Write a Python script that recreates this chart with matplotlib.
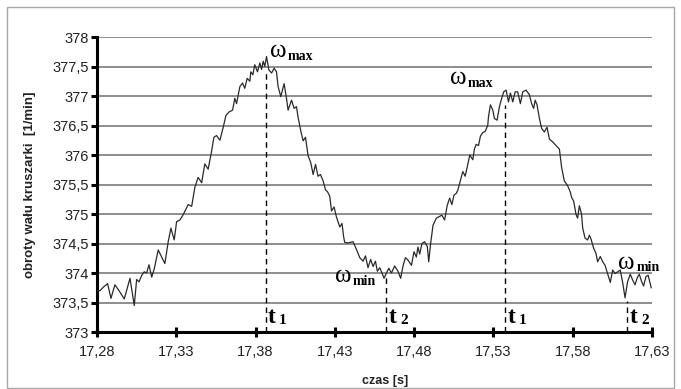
import matplotlib
matplotlib.use("Agg")
import matplotlib.pyplot as plt
from matplotlib.ticker import FixedLocator, FuncFormatter
from matplotlib.patches import Rectangle

# ---- data ----
time_s = [
    17.2800, 17.2819, 17.2840, 17.2867, 17.2888, 17.2913, 17.2939, 17.2972, 17.3008, 17.3035,
    17.3050, 17.3065, 17.3082, 17.3098, 17.3113, 17.3128, 17.3145, 17.3161, 17.3186, 17.3208,
    17.3228, 17.3249, 17.3266, 17.3287, 17.3302, 17.3323, 17.3344, 17.3375, 17.3397, 17.3417,
    17.3438, 17.3460, 17.3480, 17.3501, 17.3523, 17.3537, 17.3554, 17.3575, 17.3596, 17.3613,
    17.3633, 17.3655, 17.3669, 17.3680, 17.3701, 17.3718, 17.3732, 17.3747, 17.3764, 17.3770,
    17.3783, 17.3795, 17.3812, 17.3827, 17.3838, 17.3848, 17.3858, 17.3869, 17.3884, 17.3901,
    17.3917, 17.3932, 17.3942, 17.3959, 17.3980, 17.3995, 17.4005, 17.4027, 17.4043, 17.4058,
    17.4068, 17.4085, 17.4100, 17.4115, 17.4131, 17.4148, 17.4163, 17.4178, 17.4194, 17.4209,
    17.4226, 17.4241, 17.4253, 17.4268, 17.4279, 17.4295, 17.4310, 17.4331, 17.4345, 17.4355,
    17.4362, 17.4383, 17.4415, 17.4436, 17.4457, 17.4478, 17.4493, 17.4509, 17.4526, 17.4541,
    17.4556, 17.4568, 17.4583, 17.4597, 17.4610, 17.4625, 17.4640, 17.4657, 17.4677, 17.4698,
    17.4715, 17.4730, 17.4745, 17.4761, 17.4783, 17.4799, 17.4814, 17.4824, 17.4835, 17.4849,
    17.4866, 17.4883, 17.4892, 17.4904, 17.4919, 17.4940, 17.4961, 17.4975, 17.4992, 17.5009,
    17.5024, 17.5038, 17.5051, 17.5066, 17.5076, 17.5090, 17.5107, 17.5122, 17.5138, 17.5151,
    17.5170, 17.5180, 17.5191, 17.5206, 17.5218, 17.5233, 17.5248, 17.5264, 17.5269, 17.5281,
    17.5296, 17.5306, 17.5323, 17.5338, 17.5352, 17.5365, 17.5380, 17.5395, 17.5407, 17.5422,
    17.5437, 17.5453, 17.5470, 17.5485, 17.5506, 17.5527, 17.5541, 17.5554, 17.5563, 17.5575,
    17.5590, 17.5604, 17.5621, 17.5638, 17.5653, 17.5674, 17.5695, 17.5716, 17.5730, 17.5747,
    17.5768, 17.5785, 17.5793, 17.5806, 17.5821, 17.5831, 17.5842, 17.5856, 17.5863, 17.5878,
    17.5894, 17.5905, 17.5915, 17.5932, 17.5947, 17.5957, 17.5974, 17.5989, 17.6004, 17.6020,
    17.6037, 17.6052, 17.6067, 17.6083, 17.6100, 17.6115, 17.6130, 17.6146, 17.6163, 17.6178,
    17.6193, 17.6207, 17.6220, 17.6234, 17.6247, 17.6262, 17.6276, 17.6295,
]
speed_rpm = [
    373.70, 373.70, 373.76, 373.82, 373.57, 373.80, 373.70, 373.56, 373.91, 373.45,
    373.89, 373.85, 373.96, 374.02, 374.00, 374.14, 373.93, 374.07, 374.39, 374.27,
    374.16, 374.53, 374.76, 374.56, 374.87, 374.90, 374.99, 375.16, 375.13, 375.45,
    375.62, 375.53, 375.85, 375.76, 376.07, 376.30, 376.33, 376.25, 376.47, 376.67,
    376.73, 376.76, 376.96, 376.87, 377.16, 377.22, 377.13, 377.30, 377.25, 377.41,
    377.36, 377.53, 377.41, 377.56, 377.45, 377.59, 377.50, 377.67, 377.44, 377.39,
    377.47, 377.41, 377.16, 376.99, 377.21, 376.96, 376.76, 376.93, 376.79, 376.82,
    376.64, 376.41, 376.24, 376.30, 375.99, 375.87, 375.67, 375.84, 375.64, 375.67,
    375.56, 375.41, 375.38, 375.30, 375.05, 375.12, 374.95, 374.78, 374.84, 374.62,
    374.52, 374.51, 374.53, 374.40, 374.26, 374.20, 374.29, 374.09, 374.23, 374.11,
    374.20, 374.03, 374.09, 374.00, 373.91, 374.00, 374.08, 374.00, 374.12, 374.03,
    373.91, 374.12, 374.26, 374.22, 374.13, 374.36, 374.27, 374.44, 374.32, 374.50,
    374.53, 374.45, 374.19, 374.50, 374.81, 374.93, 374.96, 374.98, 374.90, 375.15,
    375.27, 375.16, 375.32, 375.35, 375.41, 375.55, 375.72, 375.64, 375.84, 376.00,
    375.92, 376.10, 376.18, 376.16, 376.32, 376.38, 376.40, 376.50, 376.65, 376.85,
    376.76, 376.62, 376.59, 376.82, 376.96, 377.07, 377.10, 376.90, 377.05, 376.90,
    377.07, 377.07, 376.87, 377.07, 377.10, 377.02, 376.87, 376.79, 376.93, 376.85,
    376.62, 376.45, 376.39, 376.47, 376.27, 376.22, 376.16, 376.10, 375.79, 375.56,
    375.48, 375.37, 375.28, 375.22, 374.99, 374.93, 375.14, 374.99, 374.76, 374.59,
    374.56, 374.64, 374.58, 374.42, 374.33, 374.19, 374.28, 374.19, 374.13, 373.99,
    373.84, 374.05, 373.99, 374.02, 374.05, 373.84, 373.58, 373.85, 373.98, 373.88,
    373.80, 373.92, 373.98, 373.86, 373.78, 373.94, 373.96, 373.75,
]

x_ticks = [17.28, 17.33, 17.38, 17.43, 17.48, 17.53, 17.58, 17.63]
y_ticks = [373, 373.5, 374, 374.5, 375, 375.5, 376, 376.5, 377, 377.5, 378]

# marker times (t1 = max, t2 = min) and the speed where each dashed line starts
t1_times = [17.3867, 17.5376]
t1_tops = [377.42, 376.85]
t2_times = [17.4623, 17.6144]
t2_tops = [373.95, 373.52]

W, H = 681, 389
fig = plt.figure(figsize=(W / 100, H / 100), dpi=100)
fig.patch.set_facecolor("white")

# outer frame
fig.patches.append(Rectangle((7 / W, 1 / H), 667 / W, 381 / H, transform=fig.transFigure,
                             fill=False, edgecolor="#a8a8a8", linewidth=1.0))

ax = fig.add_axes([97 / W, 57 / H, 555 / W, 295 / H])
ax.set_xlim(17.28, 17.63)
ax.set_ylim(373, 378)

for yv in y_ticks[1:]:
    ax.axhline(yv, color="#7a7a7a", linewidth=1.2, zorder=1)

ax.plot(time_s, speed_rpm, color="#2a2a2a", linewidth=0.9, zorder=3,
        solid_joinstyle="round")

for tx, top in zip(t1_times + t2_times, t1_tops + t2_tops):
    ax.plot([tx, tx], [373, top], color="black", linewidth=1.0,
            linestyle=(0, (4, 3)), zorder=2)

for s in ["top", "right"]:
    ax.spines[s].set_visible(False)
for s in ["left", "bottom"]:
    ax.spines[s].set_linewidth(2.2)
    ax.spines[s].set_color("black")

comma = FuncFormatter(lambda v, p: ("%g" % v).replace(".", ","))
comma2 = FuncFormatter(lambda v, p: ("%.2f" % v).replace(".", ","))
ax.xaxis.set_major_locator(FixedLocator(x_ticks))
ax.yaxis.set_major_locator(FixedLocator(y_ticks))
ax.xaxis.set_major_formatter(comma2)
ax.yaxis.set_major_formatter(comma)
ax.tick_params(axis="x", direction="inout", length=7, width=2.2, pad=6,
               labelsize=10.5, labelcolor="#222222")
ax.tick_params(axis="y", direction="out", length=4, width=2.2, pad=2,
               labelsize=10.5, labelcolor="#222222")
for lbl in ax.get_xticklabels() + ax.get_yticklabels():
    lbl.set_fontfamily("Liberation Sans")

fig.text(30 / W, 1 - 185 / H, "obroty wału kruszarki  [1/min]", rotation=90,
         ha="center", va="center", fontsize=9.5, fontweight="bold",
         family="Liberation Sans", color="#222222")
fig.text(385 / W, 1 - 381 / H, "czas [s]", ha="center", va="center", fontsize=9,
         fontweight="bold", family="Liberation Sans", color="#222222")

serif = "Liberation Serif"


def px2x(px):
    return 17.28 + (px - 97) * 0.05 / 79.3


def py2y(py):
    return 378 - (py - 36.7) / 59.0


def omega(px, py_base, sub, sub_dx=18, sub_dy=3):
    ax.text(px2x(px), py2y(py_base), "ω", family=serif, fontsize=18,
            ha="left", va="baseline", clip_on=False, zorder=5)
    ax.text(px2x(px + sub_dx), py2y(py_base + sub_dy), sub, family=serif,
            fontsize=10, fontweight="bold", ha="left", va="baseline",
            clip_on=False, zorder=5)


omega(270, 57, "max")
omega(450, 84, "max")
omega(335, 282, "min")
omega(618, 269, "min", sub_dx=19, sub_dy=2)


def tlabel(px, sub):
    ax.text(px2x(px), py2y(323), "t", family=serif, fontsize=17,
            fontweight="bold", ha="left", va="baseline", clip_on=False, zorder=5)
    ax.text(px2x(px + 11), py2y(324), sub, family=serif, fontsize=11,
            fontweight="bold", ha="left", va="baseline", clip_on=False, zorder=5)


tlabel(268, "1")
tlabel(389, "2")
tlabel(508, "1")
tlabel(630, "2")

fig.savefig("out.png", dpi=100, facecolor="white")
